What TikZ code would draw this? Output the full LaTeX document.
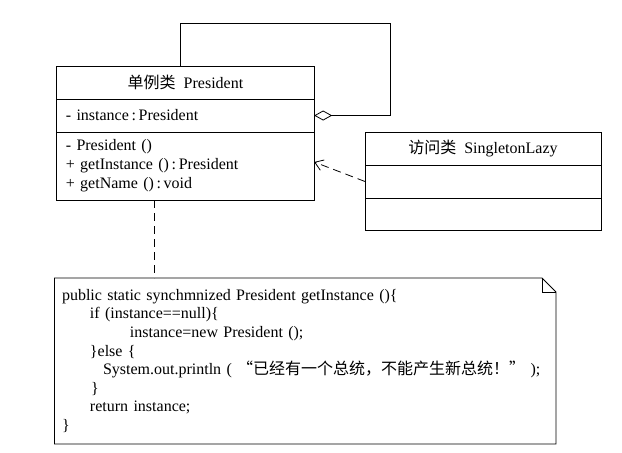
\documentclass[tikz,border=0pt]{standalone}
\usepackage{fontspec}
\setmainfont{Liberation Serif}
\newfontfamily\cjk{Noto Sans CJK SC}
\usetikzlibrary{positioning,arrows.meta}

\tikzset{
  classpart/.style={draw, line width=0.8pt, outer sep=0pt, inner xsep=9pt, inner ysep=0pt,
    align=left, font=\fontsize{16}{19}\selectfont},
  classhead/.style={classpart, align=center, minimum height=33pt},
  notebox/.style={outer sep=0pt, inner xsep=7.5pt, inner ysep=0pt, align=left,
    font=\fontsize{16}{18.6}\selectfont},
  aggr/.style={line width=0.8pt, -{Diamond[open, length=18pt, width=10pt]}},
  depend/.style={line width=0.8pt, dash pattern=on 8pt off 5pt, -{Straight Barb[length=8pt, width=11pt]}},
  noteline/.style={line width=0.8pt, dash pattern=on 8pt off 5pt}
}

\begin{document}
\begin{tikzpicture}[x=1pt, y=-1pt]
  \useasboundingbox (0,0) rectangle (622,453);
  % class President
  \node[classhead, text width=239.3pt] (presHead) at (185.5,82.5) {{\cjk 单例类}\hspace{8pt}President};
  \node[classpart, text width=239.3pt, minimum height=33pt, below=0pt of presHead] (presAttr) {- instance\,:\,President};
  \node[classpart, text width=239.3pt, minimum height=68pt, below=0pt of presAttr] (presMeth)
    {- President ()\\+ getInstance ()\,:\,President\\+ getName ()\,:\,void};
  % class SingletonLazy
  \node[classhead, text width=218pt] (lazyHead) at (483,148.5) {{\cjk 访问类}\hspace{8pt}SingletonLazy};
  \node[classpart, text width=218pt, minimum height=33pt, below=0pt of lazyHead] (lazyMid) {};
  \node[classpart, text width=218pt, minimum height=32pt, below=0pt of lazyMid] (lazyLow) {};
  % note
  \node[notebox, text width=486.5pt, minimum height=166pt, anchor=north west] (note) at (54.5,278)
    {public static synchmnized President getInstance ()\{\\
     \hspace*{28pt}if (instance==null)\{\\
     \hspace*{68pt}instance=new President ();\\
     \hspace*{28pt}\}else \{\\
     \hspace*{41pt}System.out.println ( {\cjk “已经有一个总统，不能产生新总统！”} );\\
     \hspace*{29pt}\}\\
     \hspace*{28pt}return instance;\\
     \}};
  \draw[line width=0.8pt] (note.north west) -- ([xshift=-14pt]note.north east)
    -- ([yshift=-14pt]note.north east) -- (note.south east) -- (note.south west) -- cycle;
  \draw[line width=0.8pt] ([xshift=-14pt]note.north east) |- ([yshift=-14pt]note.north east);
  % connectors
  \coordinate (loopTop) at (390,23);
  \draw[aggr] ([xshift=-5.5pt]presHead.north) |- (loopTop) |- (presAttr.east);
  \draw[depend] (lazyMid.west) -- ([yshift=4pt]presMeth.east);
  \draw[noteline] ([xshift=-31.5pt]presMeth.south) -- ([xshift=-31.5pt]presMeth.south |- note.north);
\end{tikzpicture}
\end{document}
